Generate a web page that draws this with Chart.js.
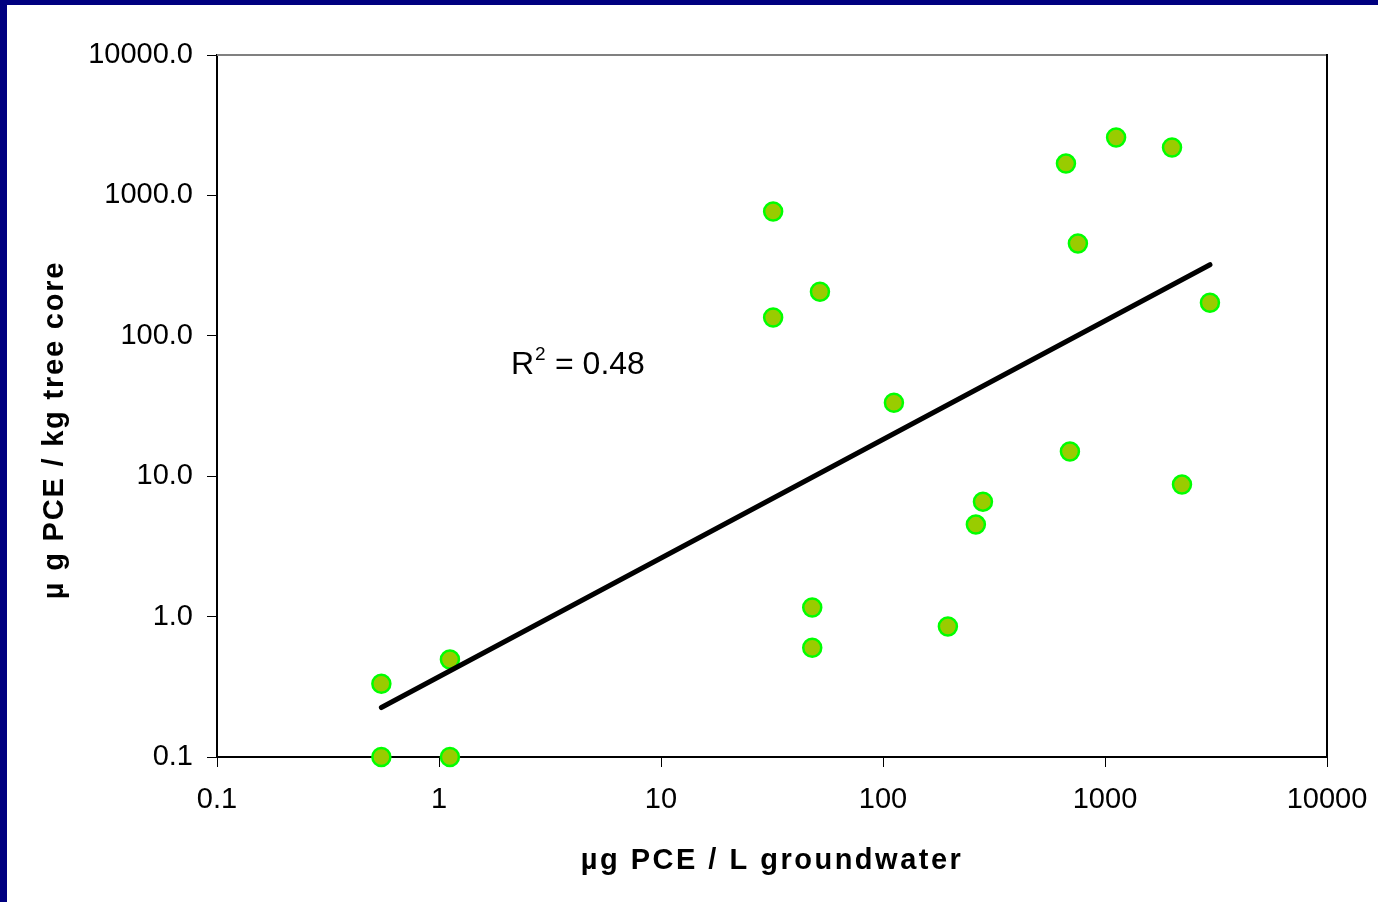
<!DOCTYPE html>
<html>
<head>
<meta charset="utf-8">
<script src="https://cdn.jsdelivr.net/npm/chart.js@4/dist/chart.umd.min.js"></script>
<style>
 html,body{margin:0;padding:0;background:#000080;overflow:hidden;}
 #wrap{position:absolute;left:7px;top:5px;width:1371px;height:897px;background:#fff;}
</style>
</head>
<body>
<div id="wrap"><canvas id="c" width="1371" height="897"></canvas></div>
<script>
// ===== DATOS =====
const groundwater=[0.55,0.55,1.12,1.12,32,32,52,48,48,112,196,262,282,667,755,695,1122,2004,2222,2970];
const treeCore=[0.333,0.1,0.494,0.1,767,135,206,1.16,0.60,33.4,0.85,4.52,6.59,1684,454,15.0,2581,2190,8.71,172];
const trendX=[0.55,2970];
const trendY=[0.225,321];
const xTicks=[0.1,1,10,100,1000,10000];
const yTicks=[0.1,1,10,100,1000,10000];
const r2Text="0.48";
const xTitle="µg PCE / L groundwater";
const yTitle="µ g PCE / kg tree core";

const puntos=groundwater.map((x,i)=>({x:x,y:treeCore[i]}));
const linea=trendX.map((x,i)=>({x:x,y:trendY[i]}));

// ===== TEXTOS Y MARCO =====
const extras={
 id:"extras",
 afterDraw(chart){
  const ctx=chart.ctx, a=chart.chartArea;
  ctx.save();
  // marco superior y derecho
  ctx.strokeStyle="#808080";ctx.lineWidth=2;
  ctx.beginPath();ctx.moveTo(a.left,a.top);ctx.lineTo(a.right,a.top);ctx.stroke();
  ctx.strokeStyle="#000";ctx.lineWidth=2;
  ctx.beginPath();ctx.moveTo(a.right,a.top-1);ctx.lineTo(a.right,a.bottom);ctx.stroke();
  // R²
  ctx.fillStyle="#000";
  ctx.textBaseline="alphabetic";ctx.textAlign="left";
  ctx.font="32px Arial, 'Liberation Sans', sans-serif";
  ctx.fillText("R",504,369);
  let w=ctx.measureText("R").width;
  ctx.font="19px Arial, 'Liberation Sans', sans-serif";
  ctx.fillText("2",504+w+1,355);
  ctx.font="32px Arial, 'Liberation Sans', sans-serif";
  ctx.fillText(" = "+r2Text,504+w+12,369);
  // títulos
  ctx.font="bold 29px Arial, 'Liberation Sans', sans-serif";
  ctx.letterSpacing="2.5px";
  ctx.textAlign="center";ctx.textBaseline="middle";
  ctx.fillText(xTitle,765,856);
  ctx.letterSpacing="1.8px";
  ctx.translate(48,425);
  ctx.rotate(-Math.PI/2);
  ctx.fillText(yTitle,0,0);
  ctx.restore();
 }
};

new Chart(document.getElementById("c"),{
 type:"scatter",
 data:{datasets:[
  {type:"line",data:linea,borderColor:"#000",borderWidth:5,borderCapStyle:"round",pointRadius:0,fill:false,order:0,clip:false},
  {data:puntos,backgroundColor:"#99CC00",borderColor:"#00FF00",borderWidth:2.5,pointRadius:9,pointHoverRadius:9,order:1,clip:false}
 ]},
 options:{
  responsive:false,animation:false,
  layout:{padding:{top:50,right:51,left:0,bottom:0}},
  plugins:{legend:{display:false},tooltip:{enabled:false}},
  scales:{
   x:{type:"logarithmic",min:0.1,max:10000,
    afterBuildTicks:s=>{s.ticks=xTicks.map(v=>({value:v}));},
    afterFit:s=>{s.height=145;s.paddingRight=0;s.paddingLeft=0;},
    border:{color:"#000",width:2},
    grid:{drawOnChartArea:false,drawTicks:true,tickLength:10,color:"#000",lineWidth:1},
    ticks:{color:"#000",padding:16,maxRotation:0,autoSkip:false,font:{family:"Arial, 'Liberation Sans', sans-serif",size:29},
     callback:v=>String(v)}
   },
   y:{type:"logarithmic",min:0.1,max:10000,
    afterBuildTicks:s=>{s.ticks=yTicks.map(v=>({value:v}));},
    afterFit:s=>{s.width=210;s.paddingTop=0;s.paddingBottom=0;},
    border:{color:"#000",width:2},
    grid:{drawOnChartArea:false,drawTicks:true,tickLength:10,color:"#000",lineWidth:1},
    ticks:{color:"#000",padding:14,autoSkip:false,font:{family:"Arial, 'Liberation Sans', sans-serif",size:29},
     callback:v=>Number(v).toFixed(1)}
   }
  }
 },
 plugins:[extras]
});
</script>
</body>
</html>
